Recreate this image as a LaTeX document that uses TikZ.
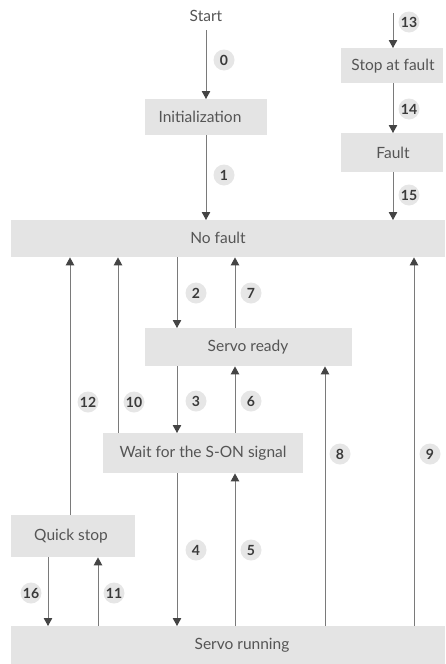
\documentclass[tikz,border=0pt]{standalone}
\usepackage{fontspec}
\setmainfont{Lato}
\usetikzlibrary{arrows.meta}
\definecolor{boxfill}{HTML}{E4E4E4}
\definecolor{txt}{HTML}{555555}
\definecolor{lnc}{HTML}{7A7A7A}
\definecolor{tipc}{HTML}{444444}
\definecolor{numfill}{HTML}{E6E6E6}
\definecolor{numtxt}{HTML}{3A3A3A}
\tikzset{
  box/.style={fill=boxfill, draw=none, inner sep=0pt, anchor=north west},
  lbl/.style={text=txt, font=\fontsize{15.5}{18}\selectfont, inner sep=0pt},
  arr/.style={draw=lnc, line width=0.9pt, -{Triangle[width=8.5pt,length=8pt,fill=tipc,color=tipc]}},
  num/.style={circle, fill=numfill, minimum size=21pt, inner sep=0pt, text=numtxt, font=\fontsize{14}{16}\selectfont\bfseries}
}
\begin{document}
\begin{tikzpicture}[x=1pt,y=-1pt]
\useasboundingbox (0,0) rectangle (445,664);
% boxes
\node[box, minimum width=122pt, minimum height=36pt] (init) at (145,99) {};
\node[box, minimum width=102pt, minimum height=35pt] (stopf) at (341,48) {};
\node[box, minimum width=102pt, minimum height=39pt] (fault) at (341,133) {};
\node[box, minimum width=434pt, minimum height=37pt] (nofault) at (11,220) {};
\node[box, minimum width=207pt, minimum height=38pt] (ready) at (145,328) {};
\node[box, minimum width=200pt, minimum height=40pt] (wait) at (103,433) {};
\node[box, minimum width=124pt, minimum height=42pt] (quick) at (11,515) {};
\node[box, minimum width=434pt, minimum height=38pt] (running) at (11,626) {};
% texts
\node[lbl] (startT) at (206,16) {Start};
\node[lbl] at (200,117) {Initialization};
\node[lbl] at (393,66) {Stop at fault};
\node[lbl] at (393,153) {Fault};
\node[lbl] at (218,238) {No fault};
\node[lbl] at (248,347) {Servo ready};
\node[lbl] at (203,453) {Wait for the S-ON signal};
\node[lbl] at (71,536) {Quick stop};
\node[lbl] at (242,645) {Servo running};
% x positions
\coordinate (xa) at (206,0);
\coordinate (xf) at (393,0);
\coordinate (x12) at (70,0);
\coordinate (x10) at (118,0);
\coordinate (xl) at (177,0);
\coordinate (xr) at (235,0);
\coordinate (x8) at (325,0);
\coordinate (x9) at (414,0);
\coordinate (x16) at (48,0);
\coordinate (x11) at (98,0);
\coordinate (top13) at (393,13);
% arrows
\draw[arr] (startT.south |- 0,30) -- (init.north -| xa);
\draw[arr] (init.south -| xa) -- (nofault.north -| xa);
\draw[arr] (top13) -- (stopf.north -| xf);
\draw[arr] (stopf.south -| xf) -- (fault.north -| xf);
\draw[arr] (fault.south -| xf) -- (nofault.north -| xf);
\draw[arr] (nofault.south -| xl) -- (ready.north -| xl);
\draw[arr] (ready.north -| xr) -- (nofault.south -| xr);
\draw[arr] (ready.south -| xl) -- (wait.north -| xl);
\draw[arr] (wait.north -| xr) -- (ready.south -| xr);
\draw[arr] (wait.south -| xl) -- (running.north -| xl);
\draw[arr] (running.north -| xr) -- (wait.south -| xr);
\draw[arr] (running.north -| x8) -- (ready.south -| x8);
\draw[arr] (running.north -| x9) -- (nofault.south -| x9);
\draw[arr] (wait.north -| x10) -- (nofault.south -| x10);
\draw[arr] (quick.north -| x12) -- (nofault.south -| x12);
\draw[arr] (quick.south -| x16) -- (running.north -| x16);
\draw[arr] (running.north -| x11) -- (quick.south -| x11);
% numbers
\node[num] at (224,60) {0};
\node[num] at (224,175) {1};
\node[num] at (196,293) {2};
\node[num] at (196,401) {3};
\node[num] at (196,550) {4};
\node[num] at (251,550) {5};
\node[num] at (251,401) {6};
\node[num] at (251,293) {7};
\node[num] at (340,454) {8};
\node[num] at (430,454) {9};
\node[num] at (134,402) {10};
\node[num] at (114,593) {11};
\node[num] at (88,402) {12};
\node[num] at (409,22) {13};
\node[num] at (409,109) {14};
\node[num] at (409,195) {15};
\node[num] at (31,593) {16};
\end{tikzpicture}
\end{document}
